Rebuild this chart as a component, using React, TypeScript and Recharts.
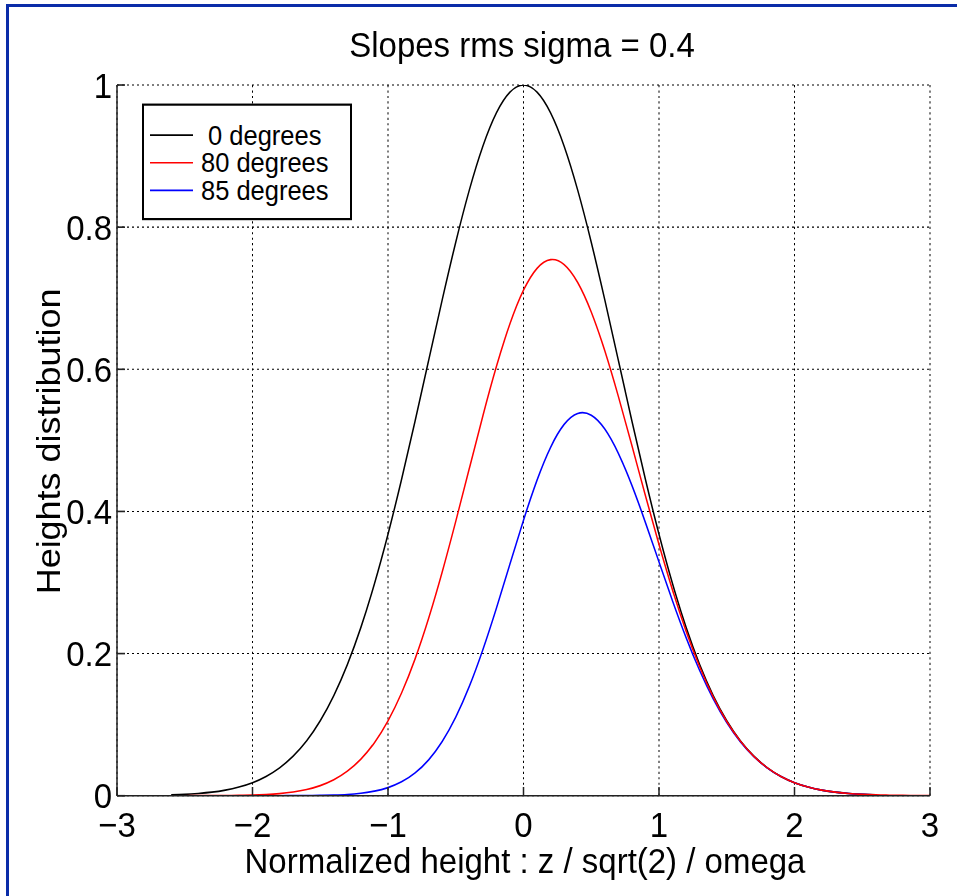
import { LineChart, Line, XAxis, YAxis, CartesianGrid, Customized } from 'recharts';

// heights, x = -3 .. 3 in steps of 0.1
const xs = [
  -3, -2.9, -2.8, -2.7, -2.6, -2.5, -2.4, -2.3, -2.2, -2.1,
  -2, -1.9, -1.8, -1.7, -1.6, -1.5, -1.4, -1.3, -1.2, -1.1,
  -1, -0.9, -0.8, -0.7, -0.6, -0.5, -0.4, -0.3, -0.2, -0.1,
  0, 0.1, 0.2, 0.3, 0.4, 0.5, 0.6, 0.7, 0.8, 0.9,
  1, 1.1, 1.2, 1.3, 1.4, 1.5, 1.6, 1.7, 1.8, 1.9,
  2, 2.1, 2.2, 2.3, 2.4, 2.5, 2.6, 2.7, 2.8, 2.9, 3,
];

const deg0 = [
  null, null, null, null, 0.0012, 0.0019, 0.0032, 0.005, 0.0079, 0.0122,
  0.0183, 0.0271, 0.0392, 0.0556, 0.0773, 0.1054, 0.1409, 0.1845, 0.2369, 0.2982,
  0.3679, 0.4449, 0.5273, 0.6126, 0.6977, 0.7788, 0.8521, 0.9139, 0.9608, 0.99,
  1, 0.99, 0.9608, 0.9139, 0.8521, 0.7788, 0.6977, 0.6126, 0.5273, 0.4449,
  0.3679, 0.2982, 0.2369, 0.1845, 0.1409, 0.1054, 0.0773, 0.0556, 0.0392, 0.0271,
  0.0183, 0.0122, 0.0079, 0.005, 0.0032, 0.0019, 0.0012, null, null, null, null,
];

const deg80 = [
  0, 0, 0, 0, 0, 0, 0.0001, 0.0002, 0.0003, 0.0005,
  0.0009, 0.0017, 0.003, 0.0052, 0.0087, 0.0142, 0.0224, 0.0345, 0.0515, 0.0747,
  0.1054, 0.1445, 0.1926, 0.2497, 0.3148, 0.386, 0.4603, 0.5344, 0.6038, 0.664,
  0.7113, 0.7421, 0.7543, 0.7474, 0.7222, 0.6807, 0.626, 0.5619, 0.4927, 0.422,
  0.3534, 0.2893, 0.2316, 0.1815, 0.1392, 0.1045, 0.0769, 0.0554, 0.0391, 0.027,
  0.0183, 0.0122, 0.0079, 0.005, 0.0031, 0.0019, 0.0012, 0.0007, 0.0004, 0.0002, 0.0001,
];

const deg85 = [
  null, null, null, null, null, null, null, null, null, null,
  0, 0, 0, 0.0001, 0.0002, 0.0004, 0.0009, 0.0017, 0.0034, 0.0064,
  0.0114, 0.0195, 0.0321, 0.0505, 0.0763, 0.1106, 0.1538, 0.2055, 0.2639, 0.326,
  0.3877, 0.4441, 0.4903, 0.5225, 0.5379, 0.5354, 0.516, 0.4818, 0.4366, 0.3843,
  0.3289, 0.2741, 0.2225, 0.1762, 0.1363, 0.103, 0.076, 0.055, 0.0389, 0.0269,
  0.0183, 0.0122, 0.0079, 0.005, 0.0031, 0.0019, 0.0012, null, null, null, null,
];

const xTicks = [-3, -2, -1, 0, 1, 2, 3];
const yTicks = [0, 0.2, 0.4, 0.6, 0.8, 1];

const series = [
  { key: 'deg0', label: ' 0 degrees', color: '#000000' },
  { key: 'deg80', label: '80 degrees', color: '#ff0000' },
  { key: 'deg85', label: '85 degrees', color: '#0000ff' },
];

const data = xs.map((x, i) => ({ x, deg0: deg0[i], deg80: deg80[i], deg85: deg85[i] }));

const FONT = 'Liberation Sans, Arial, Helvetica, sans-serif';
const W = 957;
const H = 822; // drawn squashed, then stretched back vertically
const STRETCH = 896 / H;

const fmt = (v: number) => String(v).replace('-', '\u2212');

function Texts() {
  return (
    <g fontFamily={FONT} fill="#000">
      <text x={522} y={52} fontSize={33} textAnchor="middle">
        Slopes rms sigma = 0.4
      </text>
      <text x={525} y={801} fontSize={33} textAnchor="middle">
        Normalized height : z / sqrt(2) / omega
      </text>
      <text x={60} y={405} fontSize={33} textAnchor="middle" transform="rotate(-90 60 405)">
        Heights distribution
      </text>
      <g>
        <rect x={143} y={96} width={208} height={105} fill="#fff" stroke="#000" strokeWidth={2} />
        {series.map((s, i) => (
          <g key={s.key}>
            <line x1={150} x2={193} y1={124 + i * 25.3} y2={124 + i * 25.3} stroke={s.color} strokeWidth={1.5} />
            <text x={201} y={124 + i * 25.3} fontSize={25.5} dominantBaseline="central" style={{ whiteSpace: 'pre' }}>
              {s.label}
            </text>
          </g>
        ))}
      </g>
    </g>
  );
}

export default function App() {
  const tickStyle = { fill: '#000', fontSize: 33, fontFamily: FONT };
  return (
    <div style={{ position: 'absolute', left: 0, top: 0, width: W, height: 896, background: '#fff', overflow: 'hidden' }}>
      <div
        style={{
          position: 'absolute',
          left: 6,
          top: 4,
          width: W + 20,
          height: 920,
          borderLeft: '3px solid #0a2ca8',
          borderTop: '3px solid #0a2ca8',
          boxSizing: 'border-box',
        }}
      />
      <div style={{ position: 'absolute', left: 0, top: 0, transform: `scaleY(${STRETCH})`, transformOrigin: '0 0' }}>
        <LineChart width={W} height={H} data={data} margin={{ top: 78, right: 27, left: 0, bottom: 0 }}>
          <CartesianGrid stroke="#000" strokeWidth={1} strokeDasharray="2 3" />
          <XAxis
            dataKey="x"
            type="number"
            domain={[-3, 3]}
            ticks={xTicks}
            tickFormatter={fmt}
            height={92}
            tick={tickStyle}
            tickSize={-8}
            tickMargin={22}
            axisLine={{ stroke: '#222', strokeWidth: 1.5 }}
            tickLine={{ stroke: '#222', strokeWidth: 1.5 }}
            allowDataOverflow
          />
          <YAxis
            type="number"
            domain={[0, 1]}
            ticks={yTicks}
            width={117}
            tick={tickStyle}
            tickSize={-8}
            tickMargin={13}
            axisLine={{ stroke: '#222', strokeWidth: 1.5 }}
            tickLine={{ stroke: '#222', strokeWidth: 1.5 }}
            allowDataOverflow
          />
          <Line dataKey="deg0" type="natural" stroke="#000000" strokeWidth={1.5} dot={false} isAnimationActive={false} />
          <Line dataKey="deg85" type="natural" stroke="#0000ff" strokeWidth={1.5} dot={false} isAnimationActive={false} />
          <Line dataKey="deg80" type="natural" stroke="#ff0000" strokeWidth={1.5} dot={false} isAnimationActive={false} />
          <Customized component={Texts} />
        </LineChart>
      </div>
    </div>
  );
}
